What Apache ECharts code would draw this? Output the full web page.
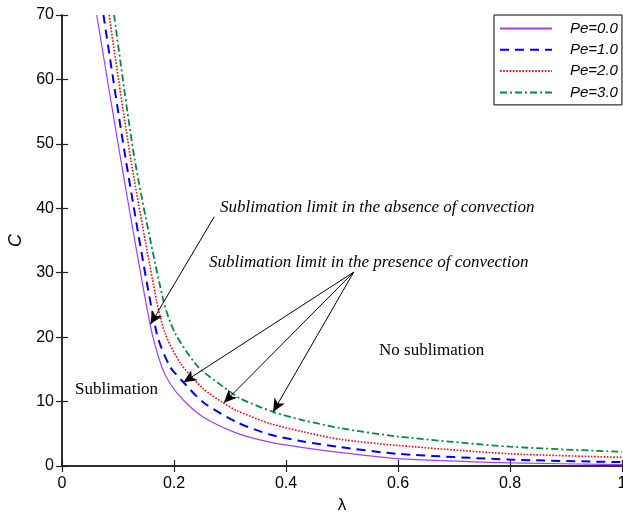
<!DOCTYPE html>
<html>
<head>
<meta charset="utf-8">
<script src="https://cdn.jsdelivr.net/npm/echarts@6/dist/echarts.min.js"></script>
<style>html,body{margin:0;padding:0;background:#fff}#main{width:623px;height:517px}</style>
</head>
<body>
<div id="main"></div>
<script>
// ---- data ----
const seriesNames = ['Pe=0.0', 'Pe=1.0', 'Pe=2.0', 'Pe=3.0'];
const lam0 = [0.062, 0.105, 0.157, 0.178, 0.193, 0.217, 0.252, 0.312, 0.371, 0.431, 0.496, 0.598, 0.8, 1.0];
const c0   = [70, 47.5, 22.1, 15.4, 12.8, 10.2, 7.6, 5.1, 3.7, 2.85, 2.1, 1.15, 0.5, 0.22];
const lam1 = [0.074, 0.114, 0.169, 0.193, 0.217, 0.252, 0.312, 0.371, 0.431, 0.496, 0.598, 0.8, 1.0];
const c1   = [70, 47.5, 20.6, 15.4, 13.0, 9.9, 6.8, 4.9, 3.8, 2.95, 1.9, 1.0, 0.6];
const lam2 = [0.084, 0.123, 0.169, 0.184, 0.211, 0.252, 0.288, 0.312, 0.371, 0.431, 0.496, 0.598, 0.8, 1.0];
const c2   = [70, 47.5, 25.6, 20.6, 16.0, 12.0, 9.8, 8.6, 6.6, 5.3, 4.15, 3.2, 1.9, 1.35];
const lam3 = [0.093, 0.130, 0.181, 0.202, 0.243, 0.288, 0.318, 0.377, 0.431, 0.496, 0.598, 0.8, 1.0];
const c3   = [70, 47.5, 25.7, 20.6, 15.4, 12.3, 10.5, 8.4, 7.1, 5.9, 4.6, 3.0, 2.2];
const xTicks = [0, 0.2, 0.4, 0.6, 0.8, 1];
const yTicks = [0, 10, 20, 30, 40, 50, 60, 70];
// annotation arrows: [from (λ, C), to (λ, C)]
const arrowAbsence = [[0.272, 38.7], [0.158, 22.0]];
const arrowsPresence = [
  [[0.521, 30.1], [0.217, 13.0]],
  [[0.521, 30.1], [0.289, 9.8]],
  [[0.521, 30.1], [0.377, 8.4]]
];
const labels = {
  absence: 'Sublimation limit in the absence of convection',
  presence: 'Sublimation limit in the presence of convection',
  noSub: 'No sublimation',
  sub: 'Sublimation'
};

// ---- chart ----
const zip = (a, b) => a.map((v, i) => [v, b[i]]);
const lineData = [zip(lam0, c0), zip(lam1, c1), zip(lam2, c2), zip(lam3, c3)];
const styles = [
  { color: '#a040f5', width: 1.2, type: 'solid' },
  { color: '#0000ff', width: 2, type: [9, 6] },
  { color: '#ff0000', width: 1.6, type: [1.6, 1.6] },
  { color: '#008c3c', width: 1.8, type: [7, 3, 2, 3] }
];
const arrowLines = [arrowAbsence].concat(arrowsPresence).map(p => [
  { coord: p[0], symbol: 'none' },
  { coord: p[1], symbol: 'arrow' }
]);

const axisColor = '#222';
const baseFont = 'Liberation Sans, Arial, sans-serif';
const serif = 'Liberation Serif, Times New Roman, serif';

const series = seriesNames.map((n, i) => ({
  name: n,
  type: 'line',
  data: lineData[i],
  smooth: 0.25,
  symbol: 'none',
  showSymbol: false,
  lineStyle: styles[i],
  itemStyle: { color: styles[i].color },
  z: 3
}));
series[0].markLine = {
  silent: true,
  symbol: ['none', 'arrow'],
  symbolSize: [9, 13],
  label: { show: false },
  lineStyle: { color: '#000', width: 1, type: 'solid' },
  emphasis: { disabled: true },
  data: arrowLines
};

const chart = echarts.init(document.getElementById('main'), null, { renderer: 'canvas' });
chart.setOption({
  animation: false,
  backgroundColor: '#fff',
  grid: { left: 62, right: 1, top: 15, bottom: 51, containLabel: false, outerBoundsMode: 'none' },
  xAxis: [{
    type: 'value', min: xTicks[0], max: xTicks[xTicks.length - 1], interval: 0.2,
    name: 'λ', nameLocation: 'middle', nameGap: 31,
    nameTextStyle: { fontFamily: baseFont, fontSize: 17, color: '#000' },
    axisLine: { show: true, lineStyle: { color: axisColor, width: 1.5 } },
    axisTick: { show: true, inside: true, length: 6, lineStyle: { color: axisColor, width: 1.2 } },
    axisLabel: { fontFamily: baseFont, fontSize: 16, color: '#000', margin: 10 },
    splitLine: { show: false }
  }, {
    type: 'value', position: 'top', min: 0, max: 1, interval: 0.2,
    axisLine: { show: true, lineStyle: { color: axisColor, width: 1.5 } },
    axisTick: { show: true, inside: true, length: 6, lineStyle: { color: axisColor, width: 1.2 } },
    axisLabel: { show: false }, splitLine: { show: false }
  }],
  yAxis: [{
    type: 'value', min: yTicks[0], max: yTicks[yTicks.length - 1], interval: 10,
    name: 'C', nameLocation: 'middle', nameGap: 35,
    nameTextStyle: { fontFamily: baseFont, fontSize: 18, fontStyle: 'italic', color: '#000' },
    axisLine: { show: true, lineStyle: { color: axisColor, width: 1.5 } },
    axisTick: { show: true, inside: true, length: 6, lineStyle: { color: axisColor, width: 1.2 } },
    axisLabel: { fontFamily: baseFont, fontSize: 16, color: '#000', margin: 8 },
    splitLine: { show: false }
  }, {
    type: 'value', position: 'right', min: 0, max: 70, interval: 10,
    axisLine: { show: true, lineStyle: { color: axisColor, width: 1.5 } },
    axisTick: { show: true, inside: true, length: 6, lineStyle: { color: axisColor, width: 1.2 } },
    axisLabel: { show: false }, splitLine: { show: false }
  }],
  legend: {
    data: seriesNames,
    orient: 'vertical',
    left: 494, top: 15,
    padding: [6, 4, 5, 5],
    itemWidth: 52, itemHeight: 14, itemGap: 6.3,
    itemStyle: { opacity: 0 },
    backgroundColor: '#fff',
    borderColor: '#000', borderWidth: 1,
    borderRadius: 0,
    selectedMode: false,
    textStyle: { fontFamily: baseFont, fontSize: 15, fontStyle: 'italic', color: '#000', padding: [0, 0, 0, 13] }
  },
  graphic: [
    { type: 'text', left: 220, top: 199, z: 10,
      style: { text: labels.absence, font: 'italic 17px ' + serif, fill: '#000' } },
    { type: 'text', left: 209, top: 254, z: 10,
      style: { text: labels.presence, font: 'italic 17px ' + serif, fill: '#000' } },
    { type: 'text', left: 379, top: 342, z: 10,
      style: { text: labels.noSub, font: '17px ' + serif, fill: '#000' } },
    { type: 'text', left: 75, top: 381, z: 10,
      style: { text: labels.sub, font: '17px ' + serif, fill: '#000' } }
  ],
  series: series
});
</script>
</body>
</html>
